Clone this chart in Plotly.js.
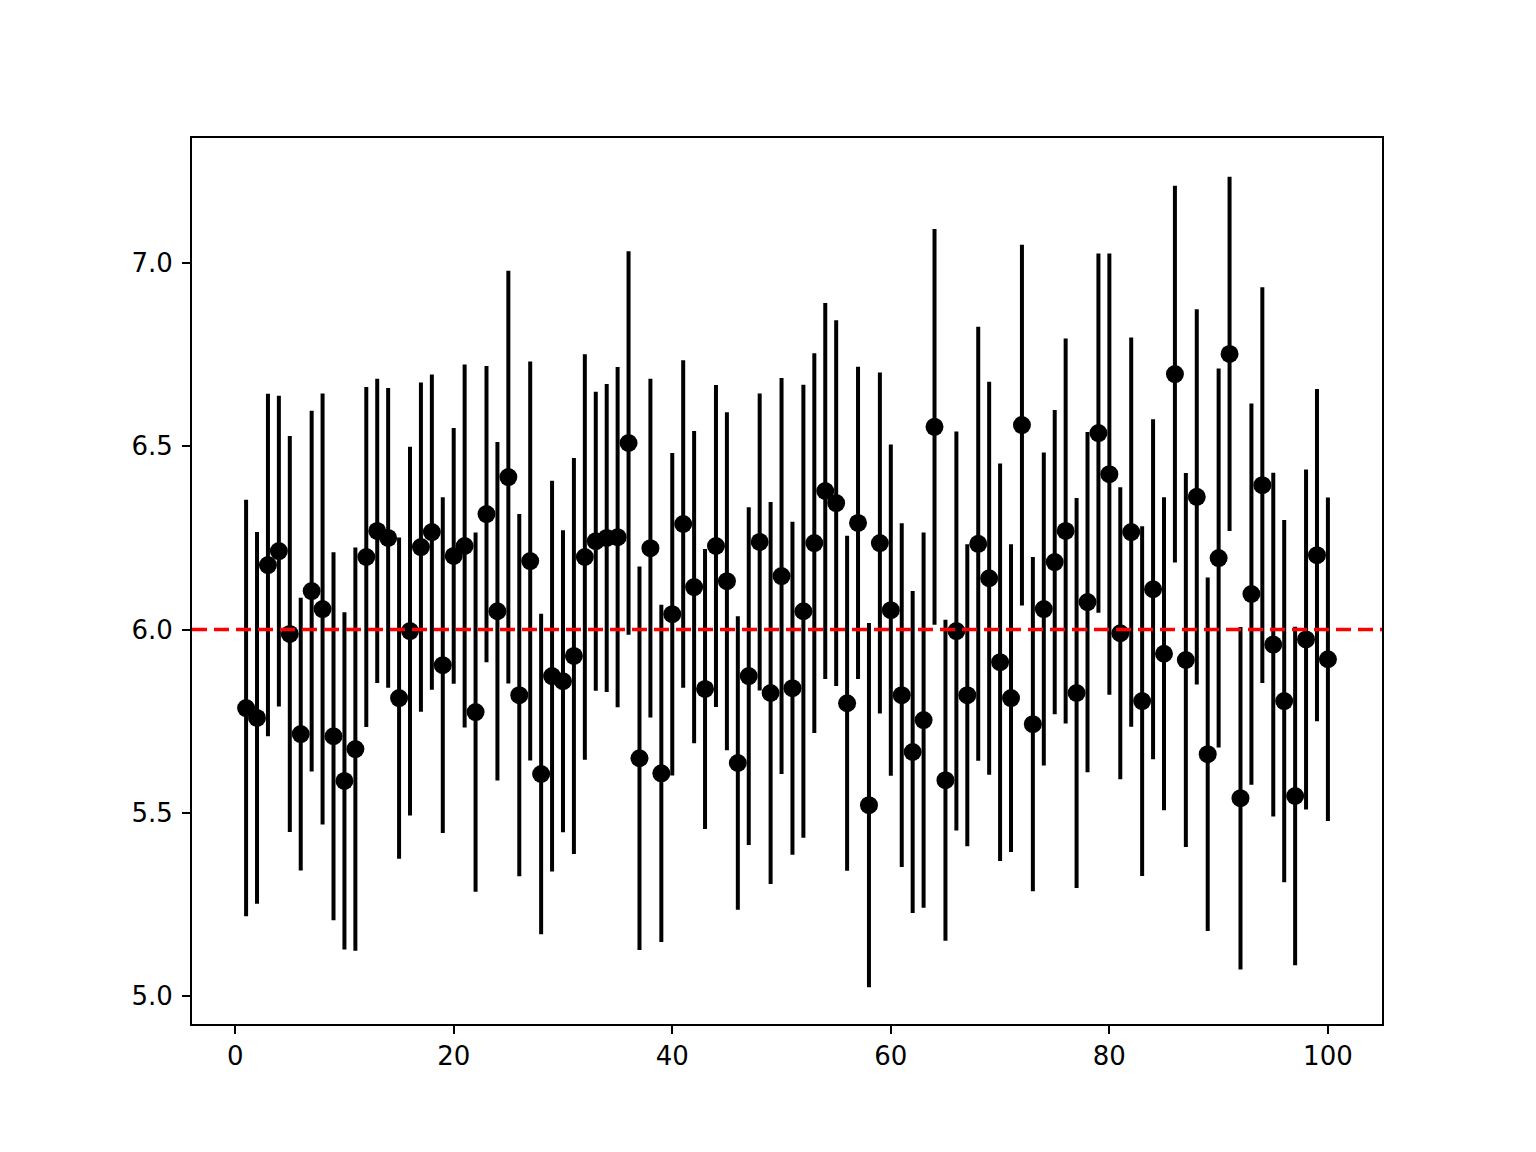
<!DOCTYPE html>
<html>
<head>
<meta charset="utf-8">
<script src="https://cdn.plot.ly/plotly-3.0.1.min.js"></script>
<style>html,body{margin:0;padding:0;background:#fff;}#chart{width:1536px;height:1152px;}</style>
</head>
<body>
<div id="chart"></div>
<script>
const xValues = [1,2,3,4,5,6,7,8,9,10,11,12,13,14,15,16,17,18,19,20,21,22,23,24,25,26,27,28,29,30,31,32,33,34,35,36,37,38,39,40,41,42,43,44,45,46,47,48,49,50,51,52,53,54,55,56,57,58,59,60,61,62,63,64,65,66,67,68,69,70,71,72,73,74,75,76,77,78,79,80,81,82,83,84,85,86,87,88,89,90,91,92,93,94,95,96,97,98,99,100];
const yValues = [5.786,5.759,6.176,6.214,5.988,5.715,6.105,6.056,5.709,5.587,
                 5.674,6.198,6.269,6.250,5.813,5.996,6.225,6.266,5.903,6.201,
                 6.228,5.775,6.315,6.050,6.416,5.821,6.187,5.606,5.873,5.859,
                 5.928,6.198,6.241,6.250,6.252,6.509,5.649,6.222,5.608,6.042,
                 6.288,6.116,5.838,6.228,6.132,5.636,5.873,6.239,5.827,6.146,
                 5.840,6.050,6.236,6.378,6.345,5.799,6.291,5.521,6.236,6.053,
                 5.821,5.666,5.753,6.553,5.589,5.996,5.821,6.234,6.140,5.911,
                 5.813,6.558,5.742,6.056,6.184,6.269,5.827,6.075,6.536,6.424,
                 5.990,6.266,5.805,6.110,5.934,6.697,5.917,6.362,5.660,6.195,
                 6.752,5.540,6.097,6.394,5.959,5.805,5.546,5.973,6.203,5.919];
const yErrors = [0.568,0.507,0.467,0.424,0.540,0.372,0.492,0.588,0.502,0.460,
                 0.550,0.464,0.415,0.409,0.438,0.503,0.449,0.430,0.458,0.349,
                 0.495,0.490,0.404,0.462,0.563,0.494,0.544,0.437,0.533,0.412,
                 0.540,0.553,0.408,0.420,0.464,0.523,0.523,0.462,0.460,0.440,
                 0.447,0.426,0.382,0.439,0.461,0.400,0.461,0.405,0.521,0.540,
                 0.454,0.618,0.518,0.513,0.499,0.457,0.426,0.497,0.465,0.452,
                 0.469,0.439,0.512,0.540,0.438,0.544,0.412,0.592,0.536,0.542,
                 0.420,0.492,0.456,0.427,0.415,0.525,0.532,0.464,0.490,0.602,
                 0.398,0.531,0.477,0.464,0.427,0.514,0.510,0.512,0.482,0.517,
                 0.483,0.467,0.520,0.540,0.469,0.494,0.462,0.464,0.453,0.441];
const referenceLevel = 6.0;
const xTickValues = [0,20,40,60,80,100];
const yTickValues = [5.0,5.5,6.0,6.5,7.0];
const yTickLabels = ["5.0","5.5","6.0","6.5","7.0"];

const trace = {
  x: xValues,
  y: yValues,
  type: 'scatter',
  mode: 'markers',
  marker: {color: '#000000', size: 18},
  error_y: {type: 'data', array: yErrors, symmetric: true, color: '#000000', thickness: 4, width: 0},
  hoverinfo: 'x+y'
};

const axisCommon = {
  showline: true, linecolor: '#000000', linewidth: 2, mirror: true,
  ticks: 'outside', ticklen: 8, tickwidth: 2, tickcolor: '#000000',
  showgrid: false, zeroline: false,
  tickfont: {family: 'DejaVu Sans', size: 26, color: '#000000'}
};

const layout = {
  width: 1536, height: 1152,
  margin: {l: 192, r: 154, t: 138, b: 128, pad: 0},
  paper_bgcolor: '#ffffff', plot_bgcolor: '#ffffff',
  showlegend: false,
  xaxis: Object.assign({}, axisCommon, {range: [-3.95, 104.95], tickmode: 'array', tickvals: xTickValues, ticktext: xTickValues.map(String)}),
  yaxis: Object.assign({}, axisCommon, {range: [4.924, 7.341], tickmode: 'array', tickvals: yTickValues, ticktext: yTickLabels, ticklabelstandoff: 4}),
  shapes: [{
    type: 'line', xref: 'paper', yref: 'y', x0: 0, x1: 1, y0: referenceLevel, y1: referenceLevel,
    line: {color: '#ff0000', width: 3.5, dash: '15px,7px'}, layer: 'above'
  }]
};

Plotly.newPlot('chart', [trace], layout, {displayModeBar: false, staticPlot: true});
</script>
</body>
</html>
